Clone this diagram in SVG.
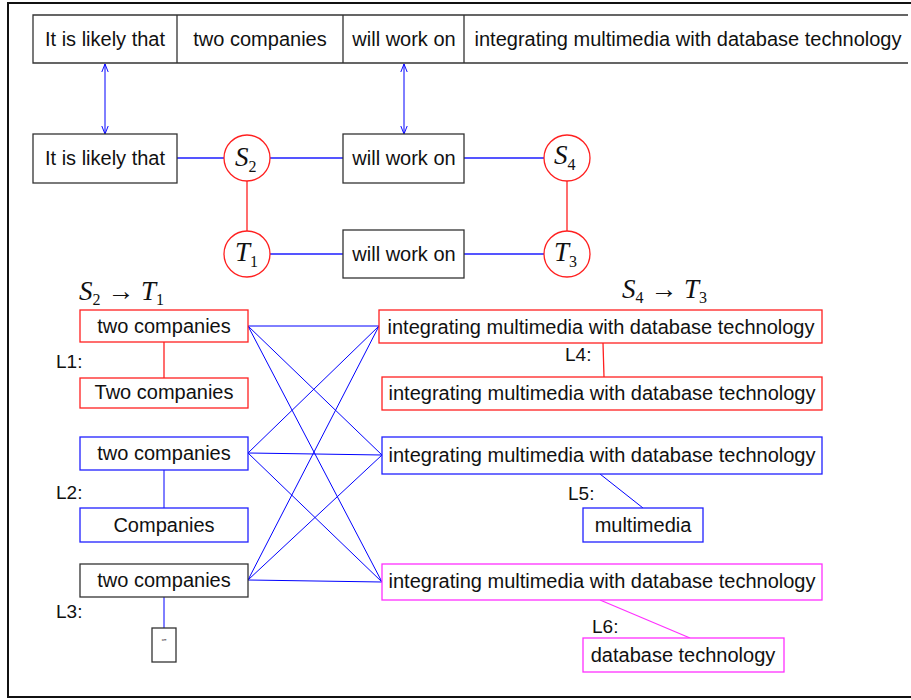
<svg xmlns="http://www.w3.org/2000/svg" width="911" height="700" viewBox="0 0 911 700">
<style>
.t{font-family:"Liberation Sans",Arial,sans-serif;font-size:20px;fill:#111;text-anchor:middle;dominant-baseline:central}
.lb{font-family:"Liberation Sans",Arial,sans-serif;font-size:19px;fill:#111}
.m{font-family:"Liberation Serif","Times New Roman",serif;font-style:italic;font-size:27px;fill:#111}
.sub{font-style:normal;font-size:16px}
.bk{fill:#fff;stroke:#333;stroke-width:1.3}
.rd{fill:#fff;stroke:#ff2020;stroke-width:1.3}
.bl{fill:#fff;stroke:#2020ff;stroke-width:1.3}
.mg{fill:#fff;stroke:#ff30ff;stroke-width:1.3}
.c{fill:#fff;stroke:#ff2020;stroke-width:1.3}
.eb{stroke:#0000ff;stroke-width:1;fill:none}
.eb2{stroke:#5555ff;stroke-width:2;fill:none}
.er{stroke:#ff2020;stroke-width:1.3;fill:none}
.em{stroke:#ff30ff;stroke-width:1.2;fill:none}
</style>
<defs>
<marker id="ar" viewBox="0 0 10 10" refX="10" refY="5" markerWidth="8" markerHeight="8" orient="auto-start-reverse" markerUnits="userSpaceOnUse">
<path d="M0,1 L10,5 L0,9" fill="none" stroke="#0000ff" stroke-width="1.2"/>
</marker>
</defs>
<rect x="8" y="3" width="910" height="694" fill="#fff" stroke="#111" stroke-width="2"/>

<g id="connectors">
<line class="eb" x1="105" y1="64" x2="105" y2="134" marker-start="url(#ar)" marker-end="url(#ar)"/>
<line class="eb" x1="404" y1="64" x2="404" y2="134" marker-start="url(#ar)" marker-end="url(#ar)"/>
<line class="eb2" x1="177" y1="158" x2="224" y2="158"/>
<line class="eb2" x1="270" y1="158" x2="343" y2="158"/>
<line class="eb2" x1="464" y1="158" x2="544" y2="158"/>
<line class="eb2" x1="270" y1="254" x2="343" y2="254"/>
<line class="eb2" x1="464" y1="254" x2="544" y2="254"/>
<line class="er" x1="247" y1="181" x2="247" y2="231"/>
<line class="er" x1="567" y1="181" x2="567" y2="231"/>
<line class="er" x1="164" y1="342" x2="164" y2="378"/>
<line class="eb" x1="164" y1="470" x2="164" y2="508" stroke-width="1.5"/>
<line class="eb" x1="164" y1="597" x2="164" y2="632" stroke-width="1.5"/>
<line class="er" x1="603" y1="343" x2="604" y2="377"/>
<line class="eb" x1="600" y1="474" x2="643" y2="508"/>
<line class="em" x1="600" y1="600" x2="690" y2="638"/>
<line class="eb" x1="248" y1="326" x2="379" y2="326"/>
<line class="eb" x1="248" y1="326" x2="382" y2="455"/>
<line class="eb" x1="248" y1="326" x2="382" y2="582"/>
<line class="eb" x1="248" y1="453" x2="379" y2="326"/>
<line class="eb" x1="248" y1="453" x2="382" y2="455"/>
<line class="eb" x1="248" y1="453" x2="382" y2="582"/>
<line class="eb" x1="248" y1="580" x2="379" y2="326"/>
<line class="eb" x1="248" y1="580" x2="382" y2="455"/>
<line class="eb" x1="248" y1="580" x2="382" y2="582"/>
</g>

<g id="top-row">
<path d="M908,15 H33 V63 H908 M177,15 V63 M343,15 V63 M464,15 V63" fill="none" stroke="#333" stroke-width="1.3"/>
<text class="t" x="105" y="39">It is likely that</text>
<text class="t" x="260" y="39">two companies</text>
<text class="t" x="404" y="39">will work on</text>
<text class="t" x="688" y="39">integrating multimedia with database technology</text>
</g>

<g id="n-likely"><rect class="bk" x="33" y="134" width="144" height="49"/><text class="t" x="105" y="158">It is likely that</text></g>
<g id="n-s2"><circle class="c" cx="247" cy="158" r="23"/><text class="m" x="235" y="166">S<tspan class="sub" dy="6">2</tspan></text></g>
<g id="n-work1"><rect class="bk" x="343" y="134" width="121" height="49"/><text class="t" x="404" y="158">will work on</text></g>
<g id="n-s4"><circle class="c" cx="567" cy="158" r="23"/><text class="m" x="554" y="164">S<tspan class="sub" dy="6">4</tspan></text></g>
<g id="n-t1"><circle class="c" cx="247" cy="254" r="23"/><text class="m" x="235" y="261">T<tspan class="sub" dy="6">1</tspan></text></g>
<g id="n-work2"><rect class="bk" x="343" y="230" width="121" height="48"/><text class="t" x="404" y="254">will work on</text></g>
<g id="n-t3"><circle class="c" cx="567" cy="254" r="23"/><text class="m" x="554" y="261">T<tspan class="sub" dy="6">3</tspan></text></g>

<g id="lbl-s2t1"><text class="m" x="79" y="300">S<tspan class="sub" dy="5">2</tspan><tspan dy="-5"> → T</tspan><tspan class="sub" dy="5">1</tspan></text></g>
<g id="lbl-s4t3"><text class="m" x="622" y="298">S<tspan class="sub" dy="5">4</tspan><tspan dy="-5"> → T</tspan><tspan class="sub" dy="5">3</tspan></text></g>

<g id="n-tc1"><rect class="rd" x="80" y="310" width="168" height="32"/><text class="t" x="164" y="326">two companies</text></g>
<g id="lbl-l1"><text class="lb" x="56" y="368">L1:</text></g>
<g id="n-Tc1"><rect class="rd" x="80" y="378" width="168" height="30"/><text class="t" x="164" y="392">Two companies</text></g>
<g id="n-tc2"><rect class="bl" x="80" y="437" width="168" height="33"/><text class="t" x="164" y="453">two companies</text></g>
<g id="lbl-l2"><text class="lb" x="56" y="499">L2:</text></g>
<g id="n-comp"><rect class="bl" x="80" y="508" width="168" height="34"/><text class="t" x="164" y="525">Companies</text></g>
<g id="n-tc3"><rect class="bk" x="80" y="564" width="168" height="33"/><text class="t" x="164" y="580">two companies</text></g>
<g id="lbl-l3"><text class="lb" x="56" y="618">L3:</text></g>
<g id="n-empty"><rect class="bk" x="152" y="628" width="24" height="34" stroke-width="1"/><text x="164" y="644" font-family="Liberation Sans,sans-serif" font-size="7" text-anchor="middle" fill="#111">“”</text></g>

<g id="n-imdt1"><rect class="rd" x="379" y="310" width="443" height="33"/><text class="t" x="601" y="327">integrating multimedia with database technology</text></g>
<g id="lbl-l4"><text class="lb" x="565" y="361">L4:</text></g>
<g id="n-imdt2"><rect class="rd" x="382" y="377" width="440" height="33"/><text class="t" x="602" y="393">integrating multimedia with database technology</text></g>
<g id="n-imdt3"><rect class="bl" x="382" y="437" width="440" height="37"/><text class="t" x="602" y="455">integrating multimedia with database technology</text></g>
<g id="lbl-l5"><text class="lb" x="568" y="500">L5:</text></g>
<g id="n-mm"><rect class="bl" x="583" y="508" width="120" height="34"/><text class="t" x="643" y="525">multimedia</text></g>
<g id="n-imdt4"><rect class="mg" x="382" y="564" width="440" height="36"/><text class="t" x="602" y="581">integrating multimedia with database technology</text></g>
<g id="lbl-l6"><text class="lb" x="592" y="633">L6:</text></g>
<g id="n-dbt"><rect class="mg" x="583" y="638" width="201" height="34"/><text class="t" x="683" y="655">database technology</text></g>
</svg>
